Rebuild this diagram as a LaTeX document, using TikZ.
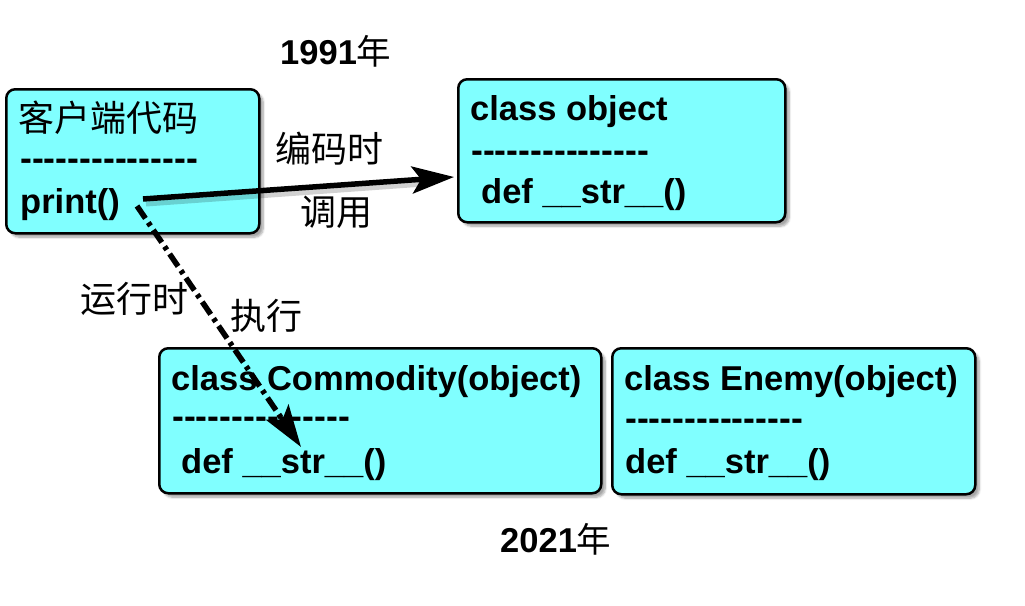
\documentclass[tikz,border=0pt]{standalone}
\usepackage{fontspec}
\setmainfont{Liberation Sans}[Ligatures=TeXOff]
\newfontfamily\cjk{Noto Sans CJK SC}
\usetikzlibrary{arrows.meta,shadows.blur}
\definecolor{boxcyan}{RGB}{128,255,255}
\tikzset{
  umlbox/.style={draw=black,line width=2.5pt,fill=boxcyan,rounded corners=9pt,
    blur shadow={shadow xshift=4pt,shadow yshift=-4pt,shadow blur steps=6,shadow opacity=35}},
  code/.style={anchor=base west,inner sep=0pt,font=\fontsize{34.5}{40}\selectfont\bfseries},
  sep/.style={anchor=base west,inner sep=0pt,font=\fontsize{35.6}{40}\selectfont\bfseries},
  cn/.style={anchor=base west,inner sep=0pt,font=\fontsize{36}{40}\selectfont\cjk},
  bigarrow/.style={line width=5.5pt,-{Stealth[length=42pt,width=27pt,inset=9pt]}},
  dashdot/.style={dash pattern=on 15pt off 5pt on 4pt off 5pt},
  arrowshadow/.style={line width=5pt,draw=black,opacity=0.18}
}
\begin{document}
\begin{tikzpicture}[x=1pt,y=-1pt]
\useasboundingbox (0,0) rectangle (1025,605);
% boxes
\node[umlbox,minimum width=253pt,minimum height=144pt,anchor=north west] (client) at (5,88) {};
\node[umlbox,minimum width=327pt,minimum height=143pt,anchor=north west] (obj) at (457,78) {};
\node[umlbox,minimum width=442pt,minimum height=145pt,anchor=north west] (comm) at (158,347) {};
\node[umlbox,minimum width=363pt,minimum height=146pt,anchor=north west] (enemy) at (611,347) {};
% client texts
\node[cn] (clienttitle) at (18,131) {客户端代码};
\node[sep] (clientsep) at (20,170) {---------------};
\node[code] (print) at (20,213) {print()};
% object
\node[code] (objtitle) at (470,120) {class object};
\node[sep] (objsep) at (471,162) {---------------};
\node[code] (objdef) at (481,203) {def \_\_str\_\_()};
% commodity
\node[code] (commtitle) at (171,390) {class Commodity(object)};
\node[sep] (commsep) at (172,428) {---------------};
\node[code] (commdef) at (181,473) {def \_\_str\_\_()};
% enemy
\node[code] (enemytitle) at (624,390) {class Enemy(object)};
\node[sep] (enemysep) at (625,430) {---------------};
\node[code] (enemydef) at (625,473) {def \_\_str\_\_()};
% labels
\node[code] (y1991) at (280,64) {1991{\cjk\mdseries 年}};
\node[code] (y2021) at (500,552) {2021{\cjk\mdseries 年}};
\node[cn] (lbcode) at (275,162) {编码时};
\node[cn] (lbcall) at (300,225) {调用};
\node[cn] (lbrun) at (80,312) {运行时};
\node[cn] (lbexec) at (230,329) {执行};
% connectors
\coordinate (callstart) at (143,199);
\coordinate (calltip) at (454,177);
\coordinate (runstart) at (137,206);
\coordinate (runtip) at (301,447);
\draw[arrowshadow] ([shift={(3,5)}]callstart) -- ([shift={(-30,7)}]calltip);
\draw[bigarrow] (callstart) -- (calltip);
\draw[bigarrow,dashdot] (runstart) -- (runtip);
\end{tikzpicture}
\end{document}
